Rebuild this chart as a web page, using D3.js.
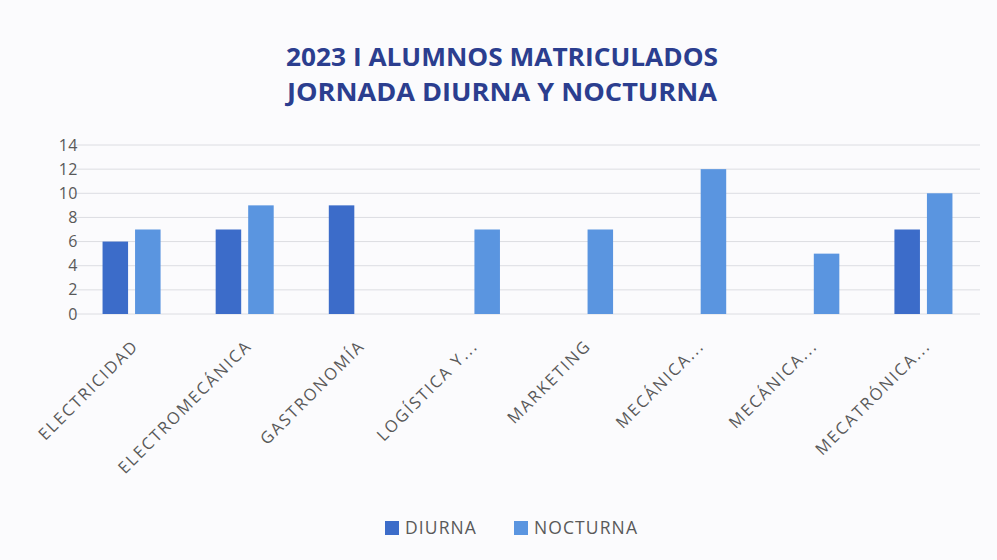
<!DOCTYPE html>
<html>
<head>
<meta charset="utf-8">
<script src="https://cdn.jsdelivr.net/npm/d3@7"></script>
<style>
    body { margin: 0; background: #fbfbfd; }
    svg { display: block; }
    .axis text { font-family: "Open Sans", sans-serif; fill: #595959; }
</style>
</head>
<body>
<div id="chart"></div>
<script>
(function() {
    var width = 997, height = 560;
    var margin = {left: 75, top: 145, right: 17, bottom: 246};

    var titleLines = ["2023 I ALUMNOS MATRICULADOS", "JORNADA DIURNA Y NOCTURNA"];
    var categories = ["ELECTRICIDAD", "ELECTROMECÁNICA", "GASTRONOMÍA", "LOGÍSTICA Y...", "MARKETING", "MECÁNICA...", "MECÁNICA...", "MECATRÓNICA..."];
    var seriesNames = ["DIURNA", "NOCTURNA"];
    var diurna = [6, 7, 9, 0, 0, 0, 0, 7];
    var nocturna = [7, 9, 0, 7, 7, 12, 5, 10];
    var yTicks = [0, 2, 4, 6, 8, 10, 12, 14];

    var colors = {DIURNA: "#3c6cc9", NOCTURNA: "#5a95e0"};

    var innerW = width - margin.left - margin.right,
        innerH = height - margin.top - margin.bottom;

    var svg = d3.select("#chart")
        .append("svg")
        .attr("width", width)
        .attr("height", height);

    // title
    svg.selectAll(".title")
        .data(titleLines)
        .enter()
        .append("text")
        .attr("class", "title")
        .attr("x", 502)
        .attr("y", function(d, i) { return 66 + i * 35; })
        .attr("text-anchor", "middle")
        .attr("textLength", function(d, i) { return i === 0 ? 432 : 430; })
        .attr("lengthAdjust", "spacingAndGlyphs")
        .style("font-family", "'Liberation Sans Narrow', 'Open Sans', sans-serif")
        .style("font-weight", "bold")
        .style("font-size", "25px")
        .style("fill", "#2b3e8f")
        .text(function(d) { return d; });

    var g = svg.append("g")
        .attr("transform", "translate(" + margin.left + "," + margin.top + ")");

    var x0 = d3.scaleBand()
        .domain(d3.range(categories.length))
        .range([0, innerW])
        .paddingInner(0.487)
        .paddingOuter(0.2435);

    var x1 = d3.scaleBand()
        .domain(seriesNames)
        .range([0, x0.bandwidth()])
        .paddingInner(0.215);

    var y = d3.scaleLinear()
        .domain([0, 14])
        .range([innerH, 0]);

    // gridlines
    g.selectAll(".grid")
        .data(yTicks)
        .enter()
        .append("line")
        .attr("class", "grid")
        .attr("x1", -2)
        .attr("x2", innerW)
        .attr("y1", function(d) { return y(d); })
        .attr("y2", function(d) { return y(d); })
        .style("stroke", "#dcdde2")
        .style("stroke-width", 1);

    var yAxis = g.append("g")
        .attr("class", "axis")
        .call(d3.axisLeft(y).tickValues(yTicks).tickSize(0).tickPadding(0));
    yAxis.select(".domain").remove();
    yAxis.selectAll("text")
        .attr("x", 3)
        .style("font-size", "16px")
        .style("letter-spacing", "0.5px");

    var rows = categories.map(function(c, i) {
        return {i: i, values: [{key: "DIURNA", value: diurna[i]}, {key: "NOCTURNA", value: nocturna[i]}]};
    });

    var groups = g.selectAll(".group")
        .data(rows)
        .enter()
        .append("g")
        .attr("class", "group")
        .attr("transform", function(d) { return "translate(" + x0(d.i) + ",0)"; });

    groups.selectAll("rect")
        .data(function(d) { return d.values.filter(function(v) { return v.value > 0; }); })
        .enter()
        .append("rect")
        .attr("x", function(d) { return x1(d.key); })
        .attr("y", function(d) { return y(d.value); })
        .attr("width", x1.bandwidth())
        .attr("height", function(d) { return innerH - y(d.value); })
        .style("fill", function(d) { return colors[d.key]; });

    // rotated category labels
    g.selectAll(".xlabel")
        .data(categories)
        .enter()
        .append("text")
        .attr("class", "xlabel")
        .attr("transform", function(d, i) {
            var cx = x0(i) + x0.bandwidth() / 2 + 8;
            return "translate(" + cx + "," + (innerH + 33) + ") rotate(-45)";
        })
        .attr("text-anchor", "end")
        .style("font-family", "'Open Sans', sans-serif")
        .style("font-size", "16.5px")
        .style("letter-spacing", "1.9px")
        .style("fill", "#595959")
        .text(function(d) { return d; });

    // legend
    var legend = svg.append("g")
        .attr("transform", "translate(385,528)");

    var legendX = [0, 129];
    var items = legend.selectAll(".item")
        .data(seriesNames)
        .enter()
        .append("g")
        .attr("class", "item")
        .attr("transform", function(d, i) { return "translate(" + legendX[i] + ",0)"; });

    items.append("rect")
        .attr("x", 0)
        .attr("y", -7)
        .attr("width", 14)
        .attr("height", 14)
        .style("fill", function(d) { return colors[d]; });

    items.append("text")
        .attr("x", 20)
        .attr("y", 6)
        .style("font-family", "'Open Sans', sans-serif")
        .style("font-size", "17.5px")
        .style("letter-spacing", "1.1px")
        .style("fill", "#595959")
        .text(function(d) { return d; });
})();
</script>
</body>
</html>
